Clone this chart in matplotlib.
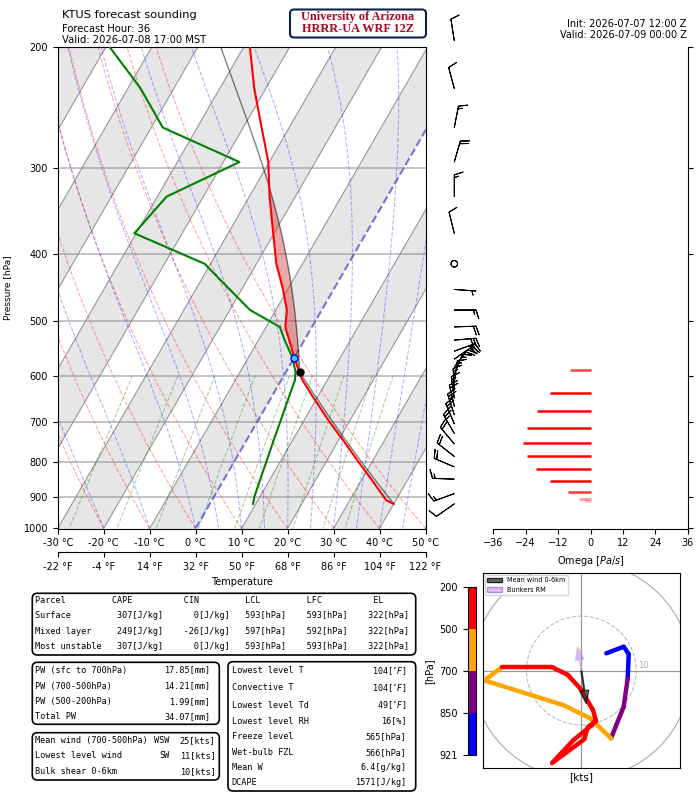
import numpy as np
import matplotlib
matplotlib.use("Agg")
import matplotlib.pyplot as plt
from matplotlib import transforms
from matplotlib.patches import FancyBboxPatch, Patch, Circle
from matplotlib.collections import LineCollection
from matplotlib.colors import ListedColormap, BoundaryNorm
from matplotlib.cm import ScalarMappable
from matplotlib.ticker import NullLocator

# ---------------- data ----------------
station = "KTUS"
fcst_hour = 36
valid_local = "2026-07-08 17:00 MST"
init_z = "2026-07-07 12:00 Z"
valid_z = "2026-07-09 00:00 Z"

# environmental sounding (hPa, degC)
pres = np.array([921, 910, 900, 850, 800, 750, 700, 650, 610, 593, 565, 533, 510,
                 482, 450, 413, 373, 330, 294, 262, 230, 196])
temp = np.array([40.0, 37.9, 37.0, 32.2, 27.0, 21.6, 15.7, 9.7, 4.7, 2.9, 0.0, -3.3,
                 -5.8, -7.6, -11.0, -15.7, -20.2, -25.6, -30.2, -36.0, -42.5, -49.6])
dewp = np.array([9.4, 9.1, 8.8, 7.9, 7.0, 6.0, 5.0, 3.9, 3.0, 2.1, -0.4, -4.3, -7.0,
                 -15.6, -22.6, -31.3, -50.4, -48.0, -36.5, -57.5, -67.2, -81.0])
freezing_level = 565

# omega (Pa/s)
omega_p = np.array([912, 906, 884, 854, 820, 786, 751, 715, 676, 635, 589, 482])
omega = np.array([-2.0, -4.1, -8.4, -14.9, -20.3, -23.7, -24.9, -23.7, -20.0, -14.9, -7.7, 0.3])

# wind barbs (hPa, direction deg, speed kts)
barb_p = np.array([921, 890, 848, 814, 786, 754, 728, 705, 684, 665, 647, 630, 614, 598,
                   583, 568, 553, 533, 510, 482, 450, 413, 373, 330, 294, 262, 230, 196])
barb_dir = np.array([235, 250, 272, 293, 308, 320, 330, 337, 342, 347, 352, 357, 8, 22,
                     38, 55, 70, 85, 88, 90, 94, 0, 346, 0, 16, 11, 345, 351])
barb_spd = np.array([11, 17, 17, 18, 20, 22, 24, 26, 23, 20, 17, 15, 14, 14,
                     18, 22, 28, 30, 22, 17, 5, 0, 10, 15, 20, 15, 10, 10])

# hodograph (hPa, u, v)
hodo_p = np.array([921, 905, 885, 850, 780, 700, 650, 600, 540, 500, 450, 420, 400, 370,
                   345, 320, 300, 280, 255, 230, 200])
hodo_u = np.array([4.56, 7.72, 8.64, 8.45, 7.72, 5.41, 1.64, -3.22, -17.70, -14.48, -5.35,
                   -2.49, -0.18, 2.13, 2.68, 1.16, 0.55, -5.35, -1.40, 1.95, 2.55])
hodo_v = np.array([3.16, 4.38, 3.04, -1.52, -6.69, -12.47, -8.82, -6.39, -1.82, 0.61, 0.61,
                   -0.79, -3.35, -7.30, -9.31, -10.46, -12.65, -17.03, -12.77, -10.04, -9.12])
hodo_bounds = [200, 500, 700, 850, 921]
hodo_colors = ['red', 'orange', 'purple', 'blue']
mean_wind = (0.9, -6.1)
bunkers_rm = (-0.3, 1.9)

# tables
parcel_names = ['Surface', 'Mixed layer', 'Most unstable']
cape = [307, 249, 307]
cin = [0, -26, 0]
lcl = [593, 597, 593]
lfc = [593, 592, 593]
el = [322, 322, 322]
pw_labels = ['PW (sfc to 700hPa)', 'PW (700-500hPa)', 'PW (500-200hPa)', 'Total PW']
pw_values = [17.85, 14.21, 1.99, 34.07]
wind_labels = ['Mean wind (700-500hPa)', 'Lowest level wind', 'Bulk shear 0-6km']
wind_dirs = ['WSW', 'SW', '']
wind_speeds = [25, 11, 10]
misc_labels = ['Lowest level T', 'Convective T', 'Lowest level Td', 'Lowest level RH',
               'Freeze level', 'Wet-bulb FZL', 'Mean W', 'DCAPE']
misc_values = ['104[$^{\\circ}F$]', '104[$^{\\circ}F$]', '49[$^{\\circ}F$]', '16[%]',
               '565[hPa]', '566[hPa]', '6.4[g/kg]', '1571[J/kg]']

# ---------------- thermodynamics helpers ----------------
Rd = 287.04749; Cp = 1004.6662; Lv = 2.50084e6; eps = 0.6219569; kappa = Rd / Cp


def es(tc):
    return 6.112 * np.exp(17.67 * tc / (tc + 243.5))


def dTdp(T, p):
    e = es(T - 273.15)
    r = eps * e / (p - e)
    return (Rd * T + Lv * r) / (p * (Cp + Lv * Lv * r * eps / (Rd * T * T)))


def moist_lapse(t0c, p):
    t0c = np.atleast_1d(np.asarray(t0c, float))
    out = np.empty((len(p), len(t0c)))
    T = t0c + 273.15
    out[0] = T
    for i in range(1, len(p)):
        h = p[i] - p[i - 1]; pp = p[i - 1]
        k1 = dTdp(T, pp); k2 = dTdp(T + h / 2 * k1, pp + h / 2)
        k3 = dTdp(T + h / 2 * k2, pp + h / 2); k4 = dTdp(T + h * k3, pp + h)
        T = T + h / 6 * (k1 + 2 * k2 + 2 * k3 + k4)
        out[i] = T
    return out - 273.15


# ---------------- figure ----------------
W, H, DPI = 697, 795, 100
fig = plt.figure(figsize=(W / DPI, H / DPI), dpi=DPI)


def box(l, t, r, b):
    return [l / W, 1 - b / H, (r - l) / W, (b - t) / H]


ax = fig.add_axes(box(57.7, 46.7, 425.5, 528.5))
ax.set_yscale('log')
ax.set_ylim(1000, 200)
ax.set_xlim(-30, 50)
y0 = ax.get_position().y0 * H
skew = ax.transData + transforms.Affine2D().translate(0, -y0).skew_deg(30, 0).translate(0, y0)

# shaded isotherm bands
for t in np.arange(-90, 60, 20):
    ax.fill_betweenx([1100, 150], t, t + 10, transform=skew, facecolor='#e6e6e6',
                     edgecolor='none', zorder=0)
for t in np.arange(-100, 61, 10):
    if t != 0:
        ax.plot([t, t], [1100, 150], transform=skew, color='gray', lw=0.8, alpha=0.8, zorder=1)
ax.plot([0, 0], [1100, 150], transform=skew, color='#3030c8', ls='--', lw=1.5, alpha=0.65,
        zorder=1.2)

pg = np.linspace(1000, 200, 81)
for t0 in np.arange(-30, 51, 10):
    Td_ = (t0 + 273.15) * (pg / 1000) ** kappa - 273.15
    ax.plot(Td_, pg, transform=skew, color='r', ls='--', lw=0.8, alpha=0.35, zorder=1.1)
t0m = np.concatenate((np.arange(-30, 0, 10), np.arange(0, 51, 5)))
ml = moist_lapse(t0m, pg)
for j in range(ml.shape[1]):
    ax.plot(ml[:, j], pg, transform=skew, color='b', ls='--', lw=0.8, alpha=0.3, zorder=1.1)
pm = np.linspace(600, 1000, 30)
for w in [0.0004, 0.001, 0.002, 0.004, 0.007, 0.01, 0.016, 0.024, 0.032]:
    e = w * pm / (eps + w)
    a = np.log(e / 6.112)
    ax.plot(243.5 * a / (17.67 - a), pm, transform=skew, color='g', ls='--', lw=0.8,
            alpha=0.35, zorder=1.1)

for p in range(300, 1000, 100):
    ax.axhline(p, color='gray', lw=1.3, alpha=0.5, zorder=1.5)

# parcel profile from the lowest level
p0, T0, Td0 = pres[0], temp[0] + 273.15, dewp[0] + 273.15
Tl = 1.0 / (1.0 / (Td0 - 56.0) + np.log(T0 / Td0) / 800.0) + 56.0
pl = p0 * (Tl / T0) ** (1 / kappa)
pp_dry = np.geomspace(p0, pl, 60)
tp_dry = T0 * (pp_dry / p0) ** kappa - 273.15
pp_moist = np.geomspace(pl, pres[-1], 200)
tp_moist = moist_lapse(Tl - 273.15, pp_moist)[:, 0]
pp = np.concatenate((pp_dry, pp_moist[1:]))
tp = np.concatenate((tp_dry, tp_moist[1:]))
te = np.interp(np.log(pp)[::-1], np.log(pres)[::-1], temp[::-1])[::-1]
mask = (tp > te) & (pp <= lfc[0] + 0.5) & (pp >= el[0] - 10)
ax.fill_betweenx(pp, te, tp, where=mask, interpolate=True, transform=skew,
                 facecolor='tab:red', alpha=0.4, edgecolor='none', zorder=2)
ax.plot(tp, pp, transform=skew, color='k', lw=1.0, alpha=0.5, zorder=3)

ax.plot(temp, pres, transform=skew, color='r', lw=1.5, zorder=4)
ax.plot(dewp, pres, transform=skew, color='g', lw=1.5, zorder=4)
ax.plot([Tl - 273.15], [pl], 'o', transform=skew, color='k', ms=5, zorder=5)
ax.plot([0], [freezing_level], 'o', transform=skew, mfc='#33ccff', mec='b', ms=5, mew=1,
        zorder=5)

xt = np.arange(-30, 51, 10)
ax.set_xticks(xt)
ax.set_xticklabels([f'{t} °C' for t in xt])
yt = np.arange(200, 1001, 100)
ax.set_yticks(yt)
ax.set_yticklabels([str(p) for p in yt])
ax.yaxis.set_minor_locator(NullLocator())
ax.tick_params(labelsize=7)
ax.set_ylabel('Pressure [hPa]', fontsize=6.5)
ax.yaxis.set_label_coords(-0.125, 0.5)

sec = ax.secondary_xaxis(-23.5 / 481.8, functions=(lambda c: c * 9 / 5 + 32,
                                                   lambda f: (f - 32) * 5 / 9))
ft = np.arange(-22, 123, 18)
sec.set_xticks(ft)
sec.set_xticklabels([f'{f} °F' for f in ft])
sec.tick_params(labelsize=7)
sec.set_xlabel('Temperature', fontsize=7)

# ---------------- omega panel ----------------
axw = fig.add_axes(box(493.3, 46.7, 687.7, 528.5))
axw.set_yscale('log')
axw.set_ylim(1000, 200)
axw.set_xlim(-36, 36)
axw.patch.set_alpha(0)
axw.spines['left'].set_visible(False)
axw.spines['top'].set_visible(False)
axw.yaxis.tick_right()
axw.set_yticks(yt)
axw.set_yticklabels([])
axw.yaxis.set_minor_locator(NullLocator())
axw.set_xticks(np.arange(-36, 37, 12))
axw.tick_params(labelsize=7)
axw.set_xlabel('Omega [$Pa/s$]', fontsize=7)
ocol = [(1, 0, 0, min(1, abs(w) / 12 + 0.1)) if w < 0 else (0, 0, 1, min(1, abs(w) / 12 + 0.1))
        for w in omega]
axw.hlines(omega_p, 0, omega, colors=ocol, lw=1.8)

# ---------------- barbs ----------------
axb = fig.add_axes(box(434.3, 46.7, 474.3, 528.5))
axb.set_yscale('log')
axb.set_ylim(1000, 200)
axb.set_xlim(-1, 1)
axb.set_axis_off()
rad = np.radians(barb_dir)
bu = -barb_spd * np.sin(rad)
bv = -barb_spd * np.cos(rad)
axb.barbs(np.zeros(len(barb_p)), barb_p, bu, bv, length=5.6, lw=0.7, clip_on=False)

# ---------------- hodograph ----------------
axh = fig.add_axes(box(482.7, 572.7, 680, 768.3))
axh.set_xlim(-18, 18)
axh.set_ylim(-18, 18)
axh.set_xticks([])
axh.set_yticks([])
axh.add_patch(Circle((0, 0), 10, fill=False, ls='--', color='#bbbbbb', lw=0.8))
axh.add_patch(Circle((0, 0), 20, fill=False, ls='-', color='#aaaaaa', lw=0.8))
axh.axhline(0, color='#999999', lw=0.9)
axh.axvline(0, color='#999999', lw=0.9)
axh.text(10.3, 0.1, '10', color='#aaaaaa', fontsize=6, ha='left', va='bottom')
cmap = ListedColormap(hodo_colors)
norm = BoundaryNorm(hodo_bounds, cmap.N)
pts = np.column_stack([hodo_u, hodo_v])
segs = np.stack([pts[:-1], pts[1:]], axis=1)
mid = 0.5 * (hodo_p[:-1] + hodo_p[1:])
lc = LineCollection(segs, colors=cmap(norm(mid)), lw=3.2, capstyle='round', joinstyle='round')
axh.add_collection(lc)
axh.arrow(0, 0, mean_wind[0], mean_wind[1], width=0.15, head_width=1.6, head_length=2.4,
          length_includes_head=True, fc='#333333', ec='k', alpha=0.7, zorder=5)
axh.arrow(0, 0, bunkers_rm[0], bunkers_rm[1], width=0.15, head_width=1.6, head_length=2.6,
          length_includes_head=False, fc='mediumpurple', ec='plum', alpha=0.45, zorder=5)
axh.legend(handles=[Patch(facecolor='#444444', edgecolor='k', alpha=0.8, label='Mean wind 0-6km'),
                    Patch(facecolor='plum', edgecolor='mediumpurple', alpha=0.7, label='Bunkers RM')],
           loc='upper left', fontsize=4.7, borderaxespad=0.3, handlelength=2.2)
axh.set_xlabel('[kts]', fontsize=7.5, labelpad=3)

cax = fig.add_axes(box(467.7, 586.7, 475.7, 755))
cb = fig.colorbar(ScalarMappable(norm=norm, cmap=cmap), cax=cax, ticks=hodo_bounds,
                  spacing='uniform')
cax.invert_yaxis()
cax.yaxis.set_ticks_position('left')
cax.yaxis.set_label_position('left')
cb.set_label('[hPa]', fontsize=7)
cax.tick_params(labelsize=7)

# ---------------- overlay: titles & tables ----------------
ov = fig.add_axes([0, 0, 1, 1])
ov.set_xlim(0, W)
ov.set_ylim(H, 0)
ov.set_axis_off()
ov.patch.set_alpha(0)

ov.text(62, 14.5, f'{station} forecast sounding', fontsize=8.2, va='center')
ov.text(62, 29, f'Forecast Hour: {fcst_hour}', fontsize=7.2, va='center')
ov.text(62, 39.7, f'Valid: {valid_local}', fontsize=7.2, va='center')
ov.add_patch(FancyBboxPatch((290, 9.5), 136, 28, boxstyle='round,pad=0,rounding_size=4',
                            fc='white', ec='#0C234B', lw=1.5))
ov.text(358, 16.7, 'University of Arizona', family='Liberation Serif', weight='bold',
        fontsize=8.8, color='#AB0520', ha='center', va='center')
ov.text(358, 29.3, 'HRRR-UA WRF 12Z', family='Liberation Serif', weight='bold',
        fontsize=8.8, color='#AB0520', ha='center', va='center')
ov.text(686.7, 24, f'Init: {init_z}', fontsize=7, ha='right', va='center')
ov.text(686.7, 34.6, f'Valid: {valid_z}', fontsize=7, ha='right', va='center')

mono = dict(family='DejaVu Sans Mono', fontsize=6.1, va='center')


def tbox(l, t, r, b):
    ov.add_patch(FancyBboxPatch((l, t), r - l, b - t, boxstyle='round,pad=0,rounding_size=5',
                                fc='white', ec='black', lw=1.2))


tbox(32.3, 593.3, 415.7, 655)
hdr = 'Parcel'.ljust(15) + 'CAPE' + ' ' * 10 + 'CIN' + ' ' * 9 + 'LCL' + ' ' * 9 + 'LFC' + ' ' * 10 + 'EL'
ov.text(35, 600.7, hdr, **mono)
for i, nm in enumerate(parcel_names):
    row = (nm.ljust(16) + f'{cape[i]}[J/kg]'.rjust(9) + f'{cin[i]}[J/kg]'.rjust(13)
           + f'{lcl[i]}[hPa]'.rjust(11) + f'{lfc[i]}[hPa]'.rjust(12) + f'{el[i]}[hPa]'.rjust(12))
    ov.text(35, [616, 631.7, 646.7][i], row, **mono)

tbox(32.3, 662.3, 219.3, 724.3)
for i, (lab, val) in enumerate(zip(pw_labels, pw_values)):
    y = [670, 686, 701.7, 716.7][i]
    ov.text(35, y, lab, **mono)
    ov.text(210.5, y, f'{val:.2f}[mm]', ha='right', **mono)

tbox(32.3, 732.7, 219.3, 780)
for i, lab in enumerate(wind_labels):
    y = [740.7, 755.7, 771.7][i]
    ov.text(35, y, lab, **mono)
    if wind_dirs[i]:
        ov.text(169.5, y, wind_dirs[i], ha='right', **mono)
    ov.text(215.5, y, f'{wind_speeds[i]}[kts]', ha='right', **mono)

tbox(228, 661.7, 415.7, 791)
for i, (lab, val) in enumerate(zip(misc_labels, misc_values)):
    y = [670.7, 688, 705, 721, 736.3, 752.3, 767.7, 782.7][i]
    ov.text(231.7, y, lab, **mono)
    ov.text(406.5, y, val, ha='right', **mono)

fig.savefig('out.png', dpi=DPI)
